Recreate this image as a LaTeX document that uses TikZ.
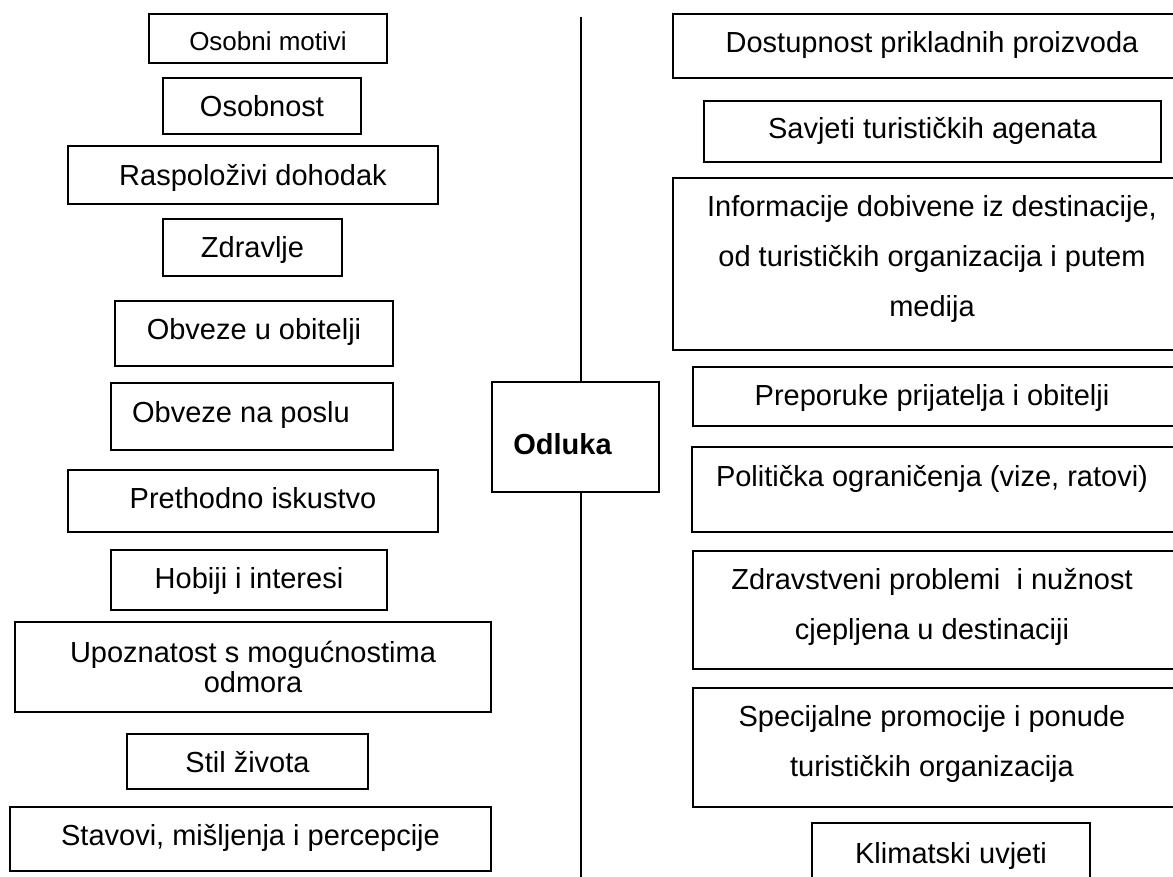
\documentclass[tikz,border=0pt]{standalone}
\usepackage{fontspec}
\setmainfont{Liberation Sans}
\newcommand\bx[7][]{\node[box,minimum width={#5-#3},minimum height={#6-#4},#1] (#2) at ({(#3+#5)/2},{(#4+#6)/2}) {#7};}
\begin{document}
\begin{tikzpicture}[x=1pt,y=-1pt,
  box/.style={draw,line width=1.5pt,rectangle,inner sep=0pt,outer sep=0pt,align=center,
    font=\fontsize{29}{34}\selectfont,text height=21pt,text depth=0pt},
  twoline/.style={font=\fontsize{29}{50}\selectfont},
  vline/.style={line width=1.3pt}]
\useasboundingbox (0,0) rectangle (1173,877);
\fill[white] (0,0) rectangle (1173,877);
\clip (0,0) rectangle (1173,877);
% left column
\bx[font=\fontsize{26}{30}\selectfont,text height=23.6pt]{osm}{149}{14}{387}{63}{Osobni motivi}
\bx{osn}{163}{78}{361}{134}{Osobnost}
\bx{ras}{68}{146}{438}{204}{Raspoloživi dohodak}
\bx{zdr}{163}{219}{342}{276}{Zdravlje}
\bx[text depth=8pt]{obo}{115}{301}{393}{366}{Obveze u obitelji}
\bx[text depth=10pt]{obp}{111}{383}{393}{450}{Obveze na poslu\rule{22pt}{0pt}}
\bx[text depth=7pt]{pre}{68}{470}{438}{532}{Prethodno iskustvo}
\bx[text depth=4pt]{hob}{111}{550}{387}{610}{Hobiji i interesi}
\bx[font=\fontsize{29}{30}\selectfont,text height=51pt,text depth=0pt]{upo}{15}{622}{491}{712}{Upoznatost s mogućnostima\\ odmora}
\bx{stil}{127}{734}{368}{789}{Stil života}
\bx[text depth=8pt]{stav}{10}{807}{491}{871}{Stavovi, mišljenja i percepcije}
% centre
\bx[font=\fontsize{29}{34}\selectfont\bfseries,text height=34pt]{odl}{492}{382}{659}{492}{Odluka\rule{26pt}{0pt}}
\coordinate (ltop) at (581,17);
\coordinate (lbot) at (581,880);
\draw[vline] (ltop) -- (ltop |- odl.north);
\draw[vline] (odl.south -| lbot) -- (lbot);
% right column
\bx[text depth=7pt]{dost}{673}{14}{1191}{78}{Dostupnost prikladnih proizvoda}
\bx[text depth=7pt]{savj}{704}{101}{1161}{162}{Savjeti turističkih agenata}
\bx[twoline,text height=121pt,text depth=16pt]{info}{673}{178}{1191}{350}{Informacije dobivene iz destinacije,\\ od turističkih organizacija i putem\\ medija}
\bx[text depth=3pt]{prep}{693}{367}{1191}{426}{Preporuke prijatelja i obitelji\rule{20pt}{0pt}}
\bx[text depth=27pt]{pol}{692}{447}{1191}{532}{Politička ograničenja (vize, ratovi)\rule{19pt}{0pt}}
\bx[twoline,text height=71pt,text depth=13pt]{zdp}{693}{551}{1191}{669}{Zdravstveni problemi~ i nužnost\rule{20pt}{0pt}\\ cjepljena u destinaciji\rule{20pt}{0pt}}
\bx[twoline,text height=71pt,text depth=13pt]{spec}{693}{688}{1191}{807}{Specijalne promocije i ponude\rule{20pt}{0pt}\\ turističkih organizacija\rule{20pt}{0pt}}
\bx{klim}{812}{823}{1090}{883}{Klimatski uvjeti}
\end{tikzpicture}
\end{document}
